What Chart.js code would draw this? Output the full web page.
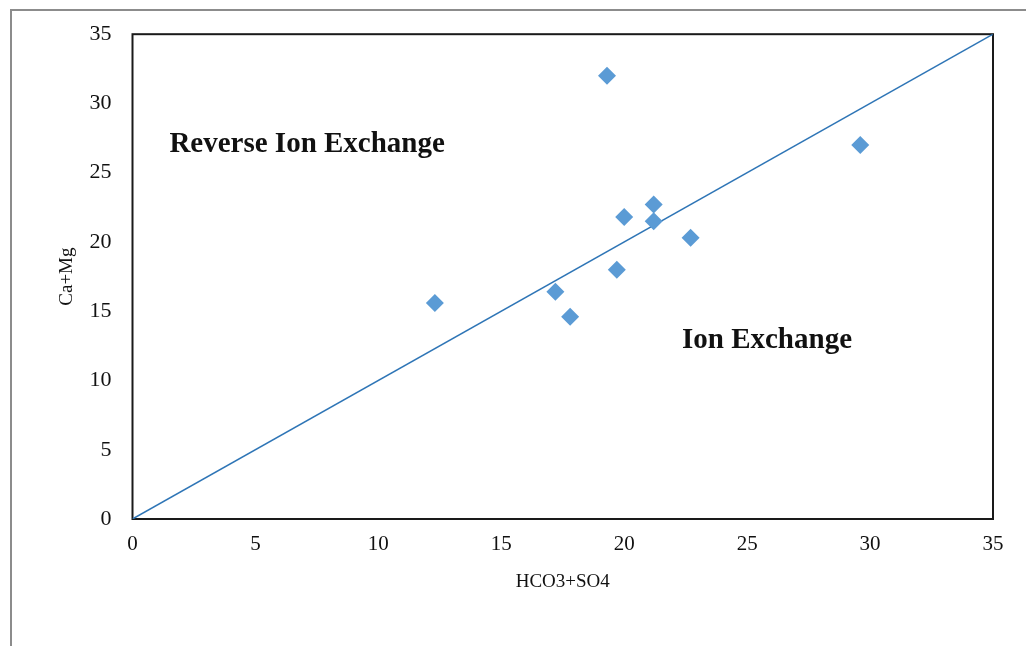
<!DOCTYPE html>
<html>
<head>
<meta charset="utf-8">
<script src="https://cdn.jsdelivr.net/npm/chart.js@4"></script>
<style>
  html, body { margin: 0; padding: 0; background: #fff; }
  #wrap { position: relative; width: 1026px; height: 646px; }
  #frame { position: absolute; left: 10px; top: 9px; right: -2px; bottom: -2px;
           border-left: 2px solid #8c8c8c; border-top: 2px solid #8c8c8c; }
  canvas { position: absolute; left: 0; top: 0; }
</style>
</head>
<body>
<div id="wrap">
  <div id="frame"></div>
  <canvas id="MyChart" width="1026" height="646"></canvas>
</div>
<script>
const xValues = [12.3, 17.2, 17.8, 19.3, 19.7, 20.0, 21.2, 21.2, 22.7, 29.6];
const yValues = [15.6, 16.4, 14.6, 32.0, 18.0, 21.8, 22.7, 21.5, 20.3, 27.0];
const lineX = [0, 35];
const lineY = [0, 35];
const labels = [
    { text: "Reverse Ion Exchange", x: 1.5, y: 27.0 },
    { text: "Ion Exchange", x: 22.35, y: 12.9 }
];

const serif = "'Liberation Serif', 'Times New Roman', serif";

const annotate = {
    id: "annotate",
    beforeDatasetsDraw(chart) {
        const a = chart.chartArea;
        const c = chart.ctx;
        c.save();
        c.strokeStyle = "#1a1a1a";
        c.lineWidth = 2;
        c.strokeRect(a.left, a.top, a.right - a.left, a.bottom - a.top);
        c.restore();
    },
    afterDatasetsDraw(chart) {
        const c = chart.ctx;
        const xs = chart.scales.x, ys = chart.scales.y;
        c.save();
        c.fillStyle = "#111";
        c.font = "bold 29px " + serif;
        c.textBaseline = "middle";
        labels.forEach(l => c.fillText(l.text, xs.getPixelForValue(l.x), ys.getPixelForValue(l.y)));
        c.restore();
    }
};

const ctx = document.getElementById("MyChart").getContext("2d");

new Chart(ctx, {
    type: "scatter",
    data: {
        datasets: [
            {
                label: "Samples",
                data: xValues.map((x, i) => ({ x: x, y: yValues[i] })),
                pointStyle: "rectRot",
                pointRadius: 9,
                pointHoverRadius: 9,
                backgroundColor: "#5b9bd5",
                borderColor: "#5b9bd5",
                borderWidth: 0
            },
            {
                label: "1:1",
                type: "line",
                data: lineX.map((x, i) => ({ x: x, y: lineY[i] })),
                borderColor: "#2e75b6",
                borderWidth: 1.5,
                pointRadius: 0,
                fill: false
            }
        ]
    },
    options: {
        responsive: false,
        animation: false,
        layout: { padding: { left: 52, top: 33, right: 33, bottom: 49 } },
        plugins: { legend: { display: false }, tooltip: { enabled: false } },
        scales: {
            x: {
                type: "linear",
                min: 0, max: 35,
                grid: { display: false, drawTicks: false },
                border: { display: false },
                ticks: { stepSize: 5, padding: 13, color: "#111", font: { family: serif, size: 21 } },
                title: { display: true, text: "HCO3+SO4", color: "#111", padding: 4, font: { family: serif, size: 19 } },
                afterFit: s => { s.height = 78; }
            },
            y: {
                type: "linear",
                min: 0, max: 35,
                grid: { display: false, drawTicks: false },
                border: { display: false },
                ticks: { stepSize: 5, padding: 21, color: "#111", font: { family: serif, size: 22 } },
                title: { display: true, text: "Ca+Mg", color: "#111", padding: 4, font: { family: serif, size: 19 } },
                afterFit: s => { s.width = 80.5; }
            }
        }
    },
    plugins: [annotate]
});
</script>
</body>
</html>
